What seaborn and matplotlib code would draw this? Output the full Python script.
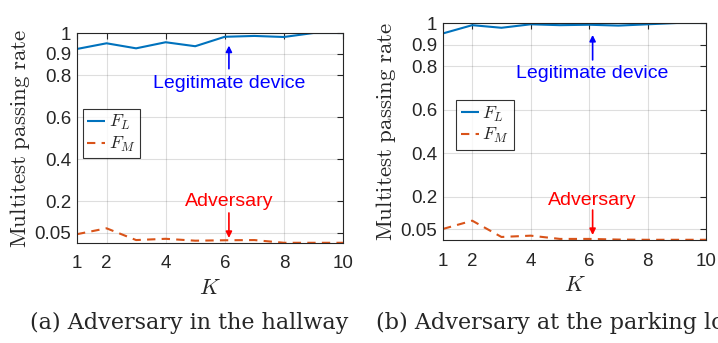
import matplotlib
matplotlib.use("Agg")
import matplotlib.pyplot as plt
import seaborn as sns
import pandas as pd

K = [1, 2, 3, 4, 5, 6, 7, 8, 9, 10]
fl_hallway = [0.924, 0.951, 0.927, 0.956, 0.937, 0.982, 0.986, 0.981, 1.0, 1.0]
fm_hallway = [0.042, 0.070, 0.014, 0.020, 0.011, 0.013, 0.014, 0.001, 0.001, 0.001]
fl_parking = [0.952, 0.990, 0.978, 0.994, 0.990, 0.992, 0.988, 0.994, 1.0, 1.0]
fm_parking = [0.051, 0.089, 0.014, 0.020, 0.005, 0.005, 0.002, 0.001, 0.001, 0.001]
yticks = [0.05, 0.2, 0.4, 0.6, 0.8, 0.9, 1]
ytick_labels = ["0.05", "0.2", "0.4", "0.6", "0.8", "0.9", "1"]
xticks = [1, 2, 4, 6, 8, 10]
captions = ["(a) Adversary in the hallway", "(b) Adversary at the parking lot"]

sns.set_style("white")
plt.rcParams["font.family"] = ["Liberation Sans", "DejaVu Sans"]
plt.rcParams["mathtext.fontset"] = "cm"

BLUE = (0, 0.447, 0.741)
ORANGE = (0.85, 0.325, 0.098)

fig = plt.figure(figsize=(7.18, 3.43), dpi=100)
ax1 = fig.add_axes([77/718, 1-243/343, 266/718, 210/343])
ax2 = fig.add_axes([443/718, 1-240/343, 263/718, 217/343])

panels = [
    (ax1, fl_hallway, fm_hallway, 6.14, (0.94, 0.83, 0.76), (0.197, 0.143, 0.024), (0.022, 0.64)),
    (ax2, fl_parking, fm_parking, 6.12, (0.945, 0.83, 0.765), (0.184, 0.138, 0.023), (0.05, 0.645)),
]

for i, (ax, fl, fm, ax_x, leg_y, adv_y, legpos) in enumerate(panels):
    df = pd.DataFrame({"K": K * 2,
                       "rate": fl + fm,
                       "series": ["$F_L$"] * 10 + ["$F_M$"] * 10})
    sns.lineplot(data=df, x="K", y="rate", hue="series", style="series",
                 palette=[BLUE, ORANGE], dashes=[(1, 0), (4, 3)],
                 linewidth=1.5, ax=ax)
    ax.set_xlim(1, 10)
    ax.set_ylim(0, 1)
    ax.set_xticks(xticks)
    ax.set_yticks(yticks)
    ax.set_yticklabels(ytick_labels)
    ax.tick_params(direction="in", top=True, right=True, length=4, width=0.8,
                   labelsize=13.5, colors=(0.15, 0.15, 0.15), pad=4)
    ax.tick_params(axis="x", pad=9)
    ax.grid(True, color=(0.15, 0.15, 0.15), alpha=0.15, linewidth=0.8)
    for s in ax.spines.values():
        s.set_color((0.15, 0.15, 0.15))
        s.set_linewidth(0.8)
    ax.set_xlabel("$K$", fontsize=16, labelpad=4)
    ax.set_ylabel(r"$\mathrm{Multitest\ passing\ rate}$", fontsize=16.5, labelpad=2)
    leg = ax.legend(loc="upper left", bbox_to_anchor=legpos, fontsize=13,
                    frameon=True, fancybox=False, edgecolor="black",
                    handlelength=1.0, handletextpad=0.2, borderpad=0.25,
                    labelspacing=0.15, borderaxespad=0)
    leg.get_frame().set_linewidth(0.8)
    ax.annotate("", xy=(ax_x, leg_y[0]), xytext=(ax_x, leg_y[1]),
                arrowprops=dict(arrowstyle="-|>", color="blue", lw=1.2,
                                mutation_scale=9, shrinkA=0, shrinkB=0))
    ax.text(ax_x, leg_y[2], "Legitimate device", color="blue", fontsize=14,
            ha="center", va="center")
    ax.annotate("", xy=(ax_x, adv_y[2]), xytext=(ax_x, adv_y[1]),
                arrowprops=dict(arrowstyle="-|>", color="red", lw=1.2,
                                mutation_scale=9, shrinkA=0, shrinkB=0))
    ax.text(ax_x, adv_y[0], "Adversary", color="red", fontsize=14,
            ha="center", va="center")

fig.text(30/718, 1-323/343, captions[0], fontsize=16, family="DejaVu Serif",
         ha="left", va="center")
fig.text(376/718, 1-323/343, captions[1], fontsize=16, family="DejaVu Serif",
         ha="left", va="center")

fig.savefig("out.png", dpi=100)
